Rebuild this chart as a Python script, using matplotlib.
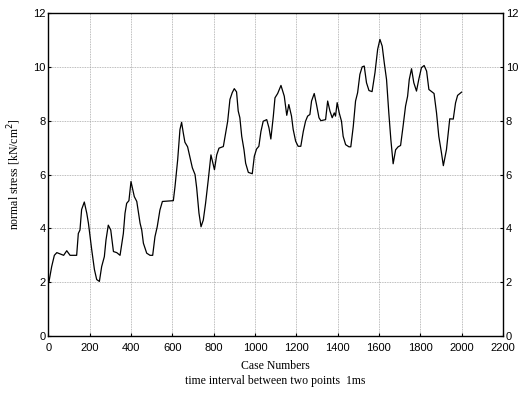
import matplotlib
matplotlib.use('Agg')
import matplotlib.pyplot as plt

# points
case_no = [3, 16, 29, 41, 57, 74, 89, 105, 137, 145, 153, 161, 174, 186, 194,
           210, 223, 234, 247, 258, 271, 279, 290, 302, 315, 331, 347, 363, 371,
           379, 390, 400, 416, 428, 444, 452, 460, 476, 492, 505, 516, 527, 540,
           552, 605, 613, 626, 637, 645, 653, 661, 674, 686, 697, 710, 718, 729,
           739, 750, 761, 774, 787, 804, 815, 826, 847, 858, 868, 879, 890, 900,
           911, 919, 927, 936, 947, 955, 968, 987, 997, 1008, 1019, 1029, 1040,
           1057, 1068, 1077, 1089, 1097, 1110, 1126, 1142, 1154, 1164, 1177,
           1185, 1197, 1209, 1222, 1234, 1245, 1255, 1266, 1274, 1287, 1298,
           1310, 1319, 1342, 1352, 1363, 1374, 1384, 1390, 1398, 1408, 1419,
           1427, 1439, 1455, 1464, 1476, 1487, 1497, 1508, 1519, 1529, 1540,
           1552, 1567, 1581, 1594, 1605, 1616, 1626, 1637, 1648, 1658, 1669,
           1681, 1693, 1705, 1717, 1729, 1739, 1747, 1758, 1769, 1782, 1793,
           1806, 1819, 1831, 1842, 1855, 1867, 1879, 1890, 1903, 1912, 1927,
           1943, 1960, 1971, 1981, 2000]
stress = [2.02, 2.58, 3.0, 3.1, 3.05, 3.0, 3.17, 3.0, 3.0, 3.81, 3.94, 4.7,
          4.98, 4.56, 4.19, 3.2, 2.47, 2.1, 2.03, 2.58, 2.95, 3.57, 4.12, 3.94,
          3.14, 3.1, 3.0, 3.81, 4.56, 4.93, 5.03, 5.74, 5.18, 5.0, 4.19, 3.94,
          3.45, 3.08, 3.0, 3.0, 3.69, 4.06, 4.68, 5.0, 5.03, 5.55, 6.55, 7.67,
          7.94, 7.55, 7.2, 7.03, 6.62, 6.25, 6.0, 5.5, 4.57, 4.06, 4.31, 4.93,
          5.8, 6.73, 6.18, 6.73, 6.98, 7.04, 7.54, 7.98, 8.79, 9.04, 9.19, 9.07,
          8.36, 8.11, 7.42, 6.92, 6.42, 6.08, 6.03, 6.68, 6.95, 7.05, 7.6, 7.98,
          8.04, 7.73, 7.32, 8.17, 8.85, 9.01, 9.31, 8.91, 8.2, 8.6, 8.17, 7.68,
          7.24, 7.05, 7.05, 7.6, 7.98, 8.17, 8.23, 8.73, 9.01, 8.6, 8.11, 8.0,
          8.04, 8.73, 8.36, 8.11, 8.29, 8.17, 8.67, 8.29, 7.98, 7.42, 7.11,
          7.03, 7.03, 7.79, 8.73, 9.04, 9.72, 10.0, 10.03, 9.41, 9.12, 9.08,
          9.78, 10.65, 11.02, 10.77, 10.15, 9.53, 8.29, 7.29, 6.4, 6.92, 7.03,
          7.08, 7.79, 8.54, 8.91, 9.53, 9.93, 9.41, 9.1, 9.53, 9.97, 10.05,
          9.84, 9.16, 9.08, 9.01, 8.29, 7.42, 6.8, 6.33, 6.92, 8.07, 8.06, 8.66,
          8.94, 9.06]

x_ticks = list(range(0, 2201, 200))
y_ticks = list(range(0, 13, 2))

fig = plt.figure(figsize=(5.2, 3.94), dpi=100)
ax = fig.add_axes([0.093, 0.147, 0.874, 0.82])
ax.plot(case_no, stress, color='black', lw=0.9)

ax.set_xlim(0, 2200)
ax.set_ylim(0, 12)
ax.set_xticks(x_ticks)
ax.set_yticks(y_ticks)
ax.grid(True, color='#a6a6a6', linestyle=(0, (1, 1)), lw=0.6)
ax.tick_params(direction='in', length=2, labelsize=8, right=True,
               labelright=True, pad=2)
ax.tick_params(axis='x', pad=5)
for lab in ax.get_xticklabels() + ax.get_yticklabels():
    lab.set_family('Liberation Sans')
for sp in ax.spines.values():
    sp.set_linewidth(1.0)

ax.set_xlabel('Case Numbers\ntime interval between two points  1ms',
              family='Liberation Serif', fontsize=8.5, labelpad=5,
              linespacing=1.3)
ax.set_ylabel('normal stress [kN/cm$^2$]', family='Liberation Serif',
              fontsize=8.5, labelpad=7)

fig.savefig('out.png', dpi=100)
